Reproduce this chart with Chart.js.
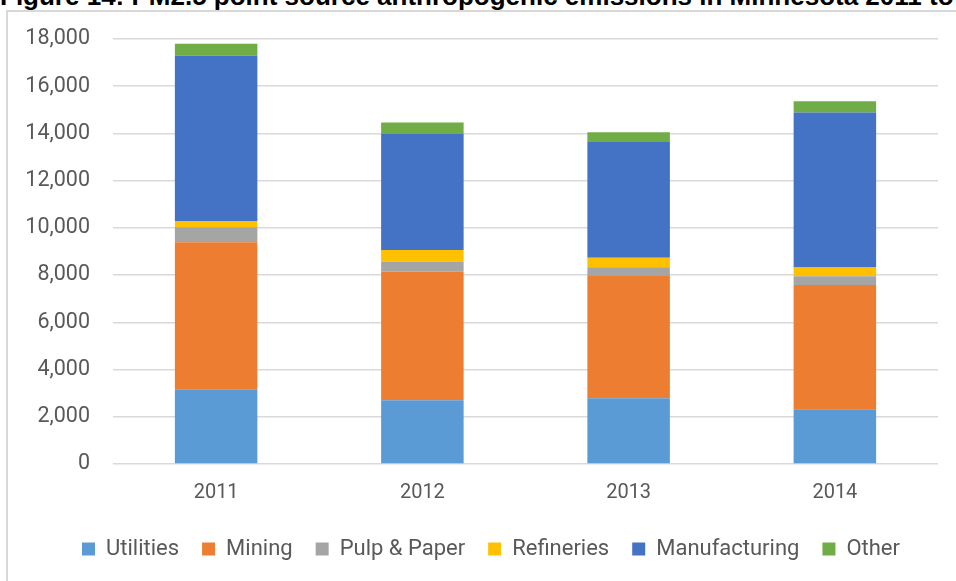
<!DOCTYPE html>
<html>
<head>
<meta charset="utf-8">
<script src="https://cdn.jsdelivr.net/npm/chart.js@4/dist/chart.umd.min.js"></script>
<style>
  html, body { margin: 0; padding: 0; width: 956px; height: 581px; overflow: hidden; background: #fff; }
  #title { position: absolute; left: 0; top: -17px; font: bold 26px "Liberation Sans", Arial, sans-serif; line-height: 26px; color: #000; white-space: nowrap; }
  #frame { position: absolute; left: 6px; top: 10px; width: 1000px; height: 700px; border-left: 2px solid #d9d9d9; border-top: 2px solid #d9d9d9; }
  #wrap { position: absolute; left: 0; top: 0; width: 956px; height: 581px; }
</style>
</head>
<body>
<div id="title">Figure 14: PM2.5 point source anthropogenic emissions in Minnesota 2011 to 2014</div>
<div id="frame"></div>
<div id="wrap"><canvas id="c" width="956" height="581"></canvas></div>
<script>
const years = ["2011", "2012", "2013", "2014"];
const utilities = [3170, 2700, 2790, 2320];
const mining = [6220, 5440, 5200, 5260];
const pulpPaper = [640, 440, 340, 370];
const refineries = [260, 480, 410, 370];
const manufacturing = [7000, 4920, 4900, 6570];
const other = [510, 480, 410, 470];
const yMin = 0, yMax = 18000, yStep = 2000;

const FONT = "Roboto, 'Liberation Sans', Arial, sans-serif";
const ds = (label, data, color) => ({ label, data, backgroundColor: color, borderWidth: 0,
  barPercentage: 0.4, categoryPercentage: 1.0 });

// The reference legend is centred on the wider outer frame, so nudge it right.
const legendShift = {
  id: 'legendShift',
  afterLayout(chart) {
    if (chart.legend) { chart.legend.left += 22; chart.legend.right += 22; }
  }
};

new Chart(document.getElementById('c'), {
  type: 'bar',
  data: {
    labels: years,
    datasets: [
      ds('Utilities', utilities, '#5B9BD5'),
      ds('Mining', mining, '#ED7D31'),
      ds('Pulp & Paper', pulpPaper, '#A5A5A5'),
      ds('Refineries', refineries, '#FFC000'),
      ds('Manufacturing', manufacturing, '#4472C4'),
      ds('Other', other, '#70AD47')
    ]
  },
  plugins: [legendShift],
  options: {
    responsive: false,
    animation: false,
    devicePixelRatio: 1,
    layout: { padding: { left: 0, right: 18, top: 39, bottom: 11 } },
    plugins: {
      tooltip: { enabled: false },
      legend: {
        position: 'bottom',
        labels: { boxWidth: 13, boxHeight: 13, padding: 23, color: '#595959',
          font: { family: FONT, size: 22 } }
      }
    },
    scales: {
      x: {
        stacked: true,
        grid: { display: false, drawTicks: false },
        border: { display: false },
        ticks: { color: '#595959', padding: 17, font: { family: FONT, size: 20 } },
        afterFit: s => { s.height = 51; }
      },
      y: {
        stacked: true,
        min: yMin, max: yMax,
        grid: { color: '#d9d9d9', lineWidth: 1.5, drawTicks: false },
        border: { display: false },
        ticks: { stepSize: yStep, color: '#595959', padding: 23, font: { family: FONT, size: 21.5 } },
        afterFit: s => { s.width = 113; }
      }
    }
  }
});
</script>
</body>
</html>
